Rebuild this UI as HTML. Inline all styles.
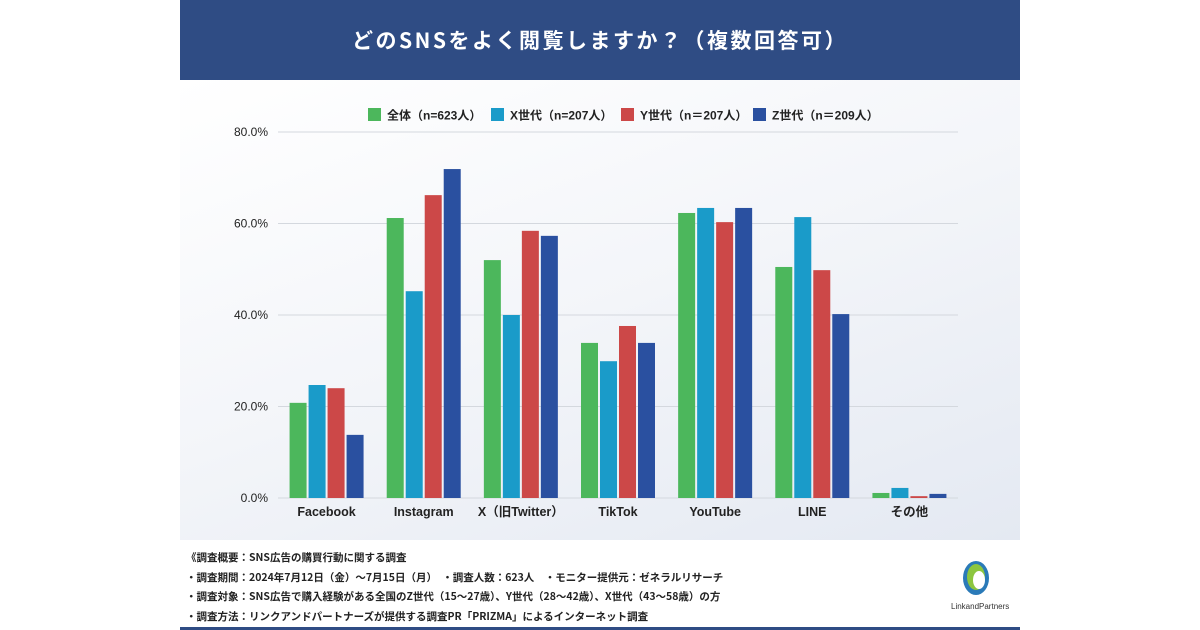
<!DOCTYPE html>
<html><head><meta charset="utf-8"><style>
body{margin:0;width:1200px;height:630px;background:#fff;font-family:"Liberation Sans","Noto Sans CJK JP",sans-serif;position:relative;overflow:hidden}
#panel{position:absolute;left:180px;top:0;width:840px;height:630px}
#hdr{position:absolute;left:0;top:0;width:840px;height:80px;background:#2f4c84;color:#fff;font-weight:bold;font-size:21px;letter-spacing:2.5px;text-align:center;line-height:80px;font-family:"Noto Sans CJK JP",sans-serif}
#chartbg{position:absolute;left:0;top:80px;width:840px;height:460px;background:linear-gradient(160deg,#ffffff 0%,#f3f5f9 50%,#e4e9f2 100%)}
#foot{position:absolute;left:6px;top:548px;font-size:10.5px;font-weight:bold;color:#222;line-height:19.5px;font-family:"Noto Sans CJK JP",sans-serif}
#bline{position:absolute;left:0;top:627px;width:840px;height:3px;background:#2f4c84}
svg text{font-family:"Liberation Sans","Noto Sans CJK JP",sans-serif}
</style></head><body>
<div id="panel">
<div id="hdr">どのSNSをよく閲覧しますか？（複数回答可）</div>
<div id="chartbg"></div>
<div id="foot">
《調査概要：SNS広告の購買行動に関する調査<br>
・調査期間：2024年7月12日（金）～7月15日（月）　・調査人数：623人　・モニター提供元：ゼネラルリサーチ<br>
・調査対象：SNS広告で購入経験がある全国のZ世代（15～27歳）、Y世代（28～42歳）、X世代（43～58歳）の方<br>
・調査方法：リンクアンドパートナーズが提供する調査PR「PRIZMA」によるインターネット調査</div>
<svg style="position:absolute;left:768px;top:558px" width="70" height="56">
<ellipse cx="28" cy="20" rx="13" ry="17" fill="#2a7ab8"/><ellipse cx="28" cy="19" rx="9" ry="13" fill="#8cc63f"/><ellipse cx="31" cy="22" rx="6" ry="9" fill="#fff"/>
<text x="3" y="51" font-size="8" fill="#333">LinkandPartners</text></svg>
<div id="bline"></div>
</div>
<svg id="chart" width="1200" height="630" style="position:absolute;left:0;top:0"></svg>
<script>
const categories=["Facebook","Instagram","X（旧Twitter）","TikTok","YouTube","LINE","その他"];
const seriesNames=["全体（n=623人）","X世代（n=207人）","Y世代（n＝207人）","Z世代（n＝209人）"];
const all=[20.8,61.2,52.0,33.9,62.3,50.5,1.1];
const genX=[24.7,45.2,40.0,29.9,63.4,61.4,2.2];
const genY=[24.0,66.2,58.4,37.6,60.3,49.8,0.4];
const genZ=[13.8,71.9,57.3,33.9,63.4,40.2,0.9];
const yTicks=[0,20,40,60,80];
const series=[all,genX,genY,genZ];
const colors=["#4cb75c","#1a9bc9","#cc4848","#2a50a0"];
const NS="http://www.w3.org/2000/svg",svg=document.getElementById('chart');
const x0=278,x1=958,y0=498,y1=132;
const yS=v=>y0-(v/80)*(y0-y1);
const bw=(x1-x0)/categories.length;
const xC=i=>x0+bw*(i+0.5);
function mk(t,a){const e=document.createElementNS(NS,t);for(const k in a)e.setAttribute(k,a[k]);svg.appendChild(e);return e;}
yTicks.forEach(v=>{
 const l=mk('line',{x1:x0,x2:x1,y1:yS(v),y2:yS(v),stroke:'#d4d8de','stroke-width':1});
 
 
 const t=mk('text',{x:268,y:yS(v)+4,'text-anchor':'end','font-size':12,fill:'#222'});
 t.textContent=v.toFixed(1)+'%';
 
 
});
categories.forEach((c,i)=>{
 series.forEach((s,j)=>{
  const r=mk('rect',{x:xC(i)-37+j*19,y:yS(s[i]),width:17,height:y0-yS(s[i]),fill:colors[j]});
  
  
 });
 const t=mk('text',{x:xC(i),y:516,'text-anchor':'middle','font-size':12.5,'font-weight':'bold',fill:'#222'});
 t.textContent=c;
 
 
});
const lx=[368,491,621,753];
seriesNames.forEach((n,j)=>{
 const r=mk('rect',{x:lx[j],y:108,width:13,height:13,fill:colors[j]});
 
 
 const t=mk('text',{x:lx[j]+19,y:119.5,'font-size':12,'font-weight':'bold',fill:'#222'});
 t.textContent=n;
 
 
});
</script>
</body></html>
